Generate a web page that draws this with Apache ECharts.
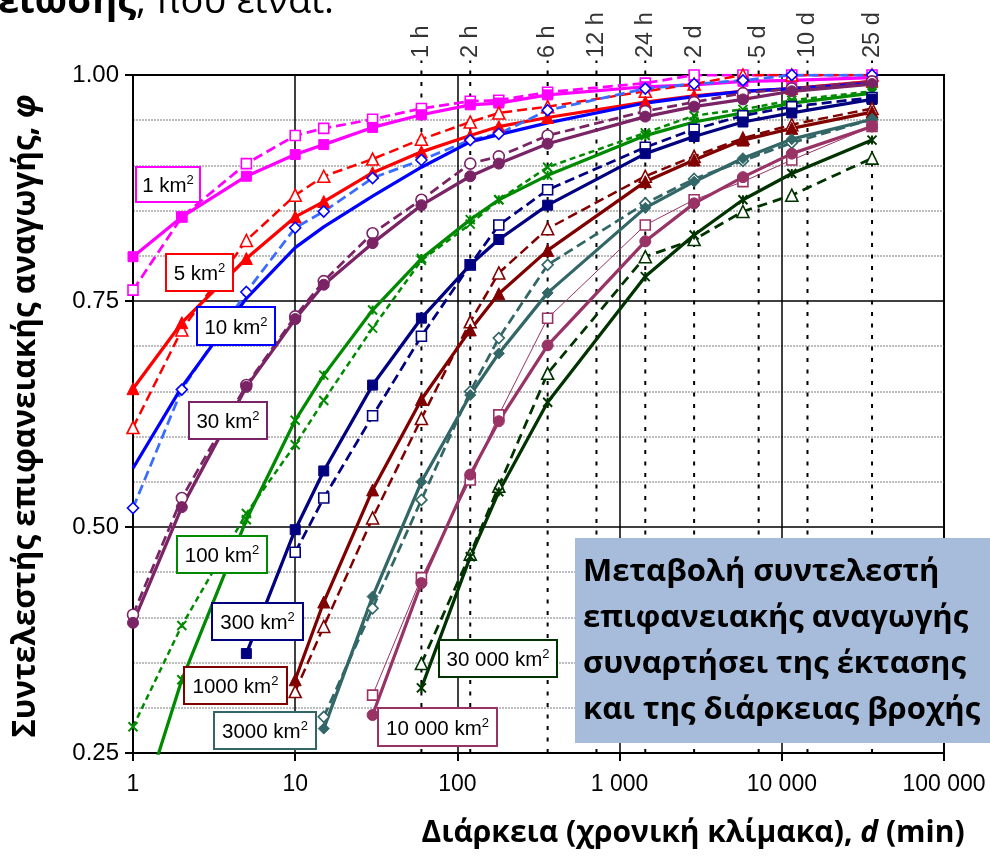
<!DOCTYPE html>
<html><head><meta charset="utf-8">
<script src="https://cdn.jsdelivr.net/npm/echarts@6/dist/echarts.min.js"></script>
<style>html,body{margin:0;padding:0;background:#fff}#c{width:990px;height:858px}</style>
</head><body><div id="c"></div>
<script>
// Durations (min)
const durations = [1,2,5,10,15,30,60,120,180,360,1440,2880,5760,11520,36000];
// Reference time marks (min) and labels
const markTimes = [60,120,360,720,1440,2880,7200,14400,36000];
const markLabels = ['1 h','2 h','6 h','12 h','24 h','2 d','5 d','10 d','25 d'];

// Areal reduction factor φ per area: A = solid series, B = dashed series
const phi1A     = [0.799,0.843,0.888,0.912,0.923,0.942,0.956,0.967,0.969,0.978,0.987,0.989,0.993,0.994,0.997];
const phi1B     = [0.762,0.843,0.902,0.933,0.941,0.951,0.963,0.971,0.972,0.981,0.991,1.000,1.000,1.000,1.000];
const phi5A     = [0.653,0.726,0.797,0.843,0.860,0.892,0.915,0.933,0.943,0.953,0.970,0.977,0.982,0.985,0.993];
const phi5B     = [0.610,0.718,0.817,0.867,0.888,0.907,0.929,0.948,0.958,0.965,0.982,0.990,1.000,1.000,1.000];
const phi10A    = [0.565,0.655,0.753,0.809,0.832,0.866,0.898,0.926,0.934,0.947,0.969,0.976,0.982,0.985,0.991];
const phi10B    = [0.521,0.652,0.760,0.831,0.849,0.886,0.906,0.928,0.935,0.961,0.985,0.990,0.994,1.000,1.000];
const phi30A    = [0.394,0.522,0.655,0.730,0.768,0.814,0.856,0.888,0.902,0.924,0.954,0.965,0.973,0.982,0.990];
const phi30B    = [0.403,0.532,0.657,0.733,0.772,0.825,0.862,0.902,0.910,0.933,0.960,0.970,0.980,0.985,0.993];
const phi100A   = [0.160,0.331,0.508,0.618,0.668,0.740,0.797,0.840,0.862,0.889,0.933,0.948,0.958,0.969,0.980];
const phi100B   = [0.279,0.391,0.515,0.591,0.640,0.720,0.795,0.835,0.862,0.898,0.936,0.955,0.962,0.972,0.982];
const phi300A   = [null,null,0.360,0.497,0.562,0.657,0.731,0.790,0.818,0.856,0.913,0.932,0.948,0.958,0.973];
const phi300B   = [null,null,null,0.472,0.532,0.623,0.711,0.790,0.834,0.873,0.920,0.940,0.955,0.965,0.975];
const phi1000A  = [null,null,null,0.331,0.417,0.541,0.641,0.718,0.758,0.806,0.882,0.906,0.928,0.941,0.959];
const phi1000B  = [null,null,null,0.318,0.390,0.510,0.620,0.727,0.781,0.830,0.888,0.910,0.930,0.945,0.963];
const phi3000A  = [null,null,null,null,0.277,0.423,0.550,0.646,0.692,0.759,0.853,0.882,0.908,0.929,0.951];
const phi3000B  = [null,null,null,null,0.290,0.410,0.530,0.650,0.709,0.790,0.858,0.885,0.905,0.925,0.951];
const phi10000A = [null,null,null,null,null,0.292,0.438,0.558,0.617,0.701,0.816,0.858,0.887,0.913,0.943];
const phi10000B = [null,null,null,null,null,0.314,0.444,0.552,0.624,0.731,0.834,0.862,0.882,0.906,0.943];
const phi30000A = [null,null,null,null,null,null,0.322,0.467,0.539,0.638,0.777,0.823,0.862,0.891,0.928];
const phi30000B = [null,null,null,null,null,null,0.349,0.470,0.545,0.670,0.799,0.818,0.849,0.867,0.908];

const X_PATH = 'path://M0,0L10,10M10,0L0,10';
const STAR_PATH = 'path://M0,0L10,10M10,0L0,10M5,0L5,10';

const defs = [
  {d:phi1B, c:'#FF00FF', s:'rect', f:false, dash:[10,5], w:2.75, sz:10},
  {d:phi1A, c:'#FF00FF', s:'rect', f:true, dash:null, w:3.25, sz:10},
  {d:phi5B, c:'#FF0000', s:'triangle', f:false, dash:[10,5], w:2.5, sz:12},
  {d:phi5A, c:'#FF0000', s:'triangle', f:true, dash:null, w:3.25, sz:12},
  {d:phi10B, c:'#3A6DFF', bc:'#0000FF', s:'diamond', f:false, dash:[10,5], w:2.75, sz:11},
  {d:phi10A, c:'#0000FF', s:'none', f:true, dash:null, w:3.25, sz:0},
  {d:phi30B, c:'#7A2365', s:'circle', f:false, dash:[10,5], w:2.75, sz:11},
  {d:phi30A, c:'#7A2365', s:'circle', f:true, dash:null, w:3.25, sz:11},
  {d:phi100B, c:'#008A00', s:X_PATH, f:false, dash:[6,4], w:2.5, sz:9, stroke:true},
  {d:phi100A, c:'#008A00', s:STAR_PATH, f:false, dash:null, w:3.25, sz:9, stroke:true},
  {d:phi300B, c:'#000080', s:'rect', f:false, dash:[10,5], w:2.75, sz:10},
  {d:phi300A, c:'#000080', s:'rect', f:true, dash:null, w:3.25, sz:10},
  {d:phi1000B, c:'#800000', s:'triangle', f:false, dash:[10,5], w:2.5, sz:12},
  {d:phi1000A, c:'#800000', s:'triangle', f:true, dash:null, w:3.25, sz:12},
  {d:phi3000B, c:'#336666', s:'diamond', f:false, dash:[10,5], w:2.75, sz:11},
  {d:phi3000A, c:'#336666', s:'diamond', f:true, dash:null, w:3.25, sz:11},
  {d:phi10000B, c:'#993366', s:'rect', f:false, dash:null, w:1, sz:10},
  {d:phi10000A, c:'#993366', s:'circle', f:true, dash:null, w:3.25, sz:11},
  {d:phi30000B, c:'#003300', s:'triangle', f:false, dash:[10,6], w:2.75, sz:12},
  {d:phi30000A, c:'#003300', s:STAR_PATH, f:false, dash:null, w:3.25, sz:9, stroke:true}
];

const series = [];
// Dotted vertical time-mark lines
markTimes.forEach(t => {
  series.push({type:'line', silent:true, clip:false, symbol:'none', z:1,
    data:[[t,0.25],[t,1.016]],
    lineStyle:{color:'#000', width:2, type:[4,7.5]}});
});
// Time labels
series.push({type:'scatter', silent:true, symbolSize:0, z:5,
  data: markTimes.map((t,i)=>({value:[t,1.0], name:markLabels[i]})),
  label:{show:true, position:'top', distance:17, rotate:90, align:'left', verticalAlign:'middle',
    formatter:p=>p.name, color:'#000', fontSize:23.5, fontFamily:'Liberation Sans'}});

defs.forEach(df => {
  const pts = [];
  df.d.forEach((v,i)=>{ if (v !== null) pts.push([durations[i], v]); });
  const item = df.stroke
    ? {color:'rgba(0,0,0,0)', borderColor:df.c, borderWidth:2}
    : (df.f ? {color:df.bc||df.c, borderColor:df.bc||df.c, borderWidth:1}
            : {color:'#fff', borderColor:df.bc||df.c, borderWidth:1.6});
  series.push({type:'line', silent:true, clip:true, data:pts, z:3,
    symbol:df.s, symbolSize:df.sz, showSymbol: df.s !== 'none',
    lineStyle:{color:df.c, width:df.w, type: df.dash ? df.dash : 'solid'},
    itemStyle:item});
});

const fmtThousands = v => String(Math.round(v)).replace(/\B(?=(\d{3})+(?!\d))/g, ' ');

const boxes = [
  {t:'1 km',   c:'#FF00FF', x:136, y:167, w:64,  h:35},
  {t:'5 km',   c:'#FF0000', x:166, y:254, w:67,  h:37},
  {t:'10 km',  c:'#0000FF', x:197, y:307, w:78,  h:38},
  {t:'30 km',  c:'#7A2365', x:189, y:402, w:78,  h:37},
  {t:'100 km', c:'#008A00', x:177, y:536, w:90,  h:37},
  {t:'300 km', c:'#000080', x:212, y:603, w:91,  h:37},
  {t:'1000 km',c:'#800000', x:184, y:667, w:103, h:37},
  {t:'3000 km',c:'#336666', x:214, y:712, w:102, h:37},
  {t:'10 000 km', c:'#993366', x:378, y:708, w:119, h:38},
  {t:'30 000 km', c:'#003300', x:439, y:640, w:118, h:37}
];
const graphics = [];
boxes.forEach(b => {
  graphics.push({type:'rect', z:50, shape:{x:b.x, y:b.y, width:b.w, height:b.h},
    style:{fill:'#fff', stroke:b.c, lineWidth:2}});
  graphics.push({type:'text', z:51, x:b.x+b.w/2, y:b.y+b.h/2+1,
    style:{text:'{n|'+b.t+'}{s|2}', align:'center', verticalAlign:'middle',
      rich:{n:{fontSize:20.5, fontFamily:'Liberation Sans', fill:'#000', verticalAlign:'bottom', lineHeight:23},
            s:{fontSize:13, fontFamily:'Liberation Sans', fill:'#000', verticalAlign:'top', lineHeight:23}}}});
});
// Info box
graphics.push({type:'rect', z:50, shape:{x:575, y:538, width:415, height:205}, style:{fill:'#A7BCDA'}});
graphics.push({type:'text', z:51, x:583, y:549,
  style:{text:'Μεταβολή συντελεστή\nεπιφανειακής αναγωγής\nσυναρτήσει της έκτασης\nκαι της διάρκειας βροχής',
    fontSize:31, fontWeight:'bold', fontFamily:'Open Sans', fill:'#000', lineHeight:46, align:'left', verticalAlign:'top'}});
// Axis titles
graphics.push({type:'text', x:26, y:416, rotation:Math.PI/2,
  style:{text:'{a|Συντελεστής επιφανειακής αναγωγής, }{b|φ}', align:'center', verticalAlign:'middle',
    rich:{a:{fontSize:31.5, fontWeight:'bold', fontFamily:'Open Sans', fill:'#000'},
          b:{fontSize:31.5, fontWeight:'bold', fontStyle:'italic', fontFamily:'Open Sans', fill:'#000'}}}});
graphics.push({type:'text', x:693, y:833,
  style:{text:'{a|Διάρκεια (χρονική κλίμακα), }{b|d}{a| (min)}', align:'center', verticalAlign:'middle',
    rich:{a:{fontSize:30, fontWeight:'bold', fontFamily:'Open Sans', fill:'#000'},
          b:{fontSize:30, fontWeight:'bold', fontStyle:'italic', fontFamily:'Open Sans', fill:'#000'}}}});
// Cropped slide text at top
graphics.push({type:'text', x:-2, y:21,
  style:{text:'{a|είωσης}{b|, που είναι:}', align:'left', verticalAlign:'bottom',
    rich:{a:{fontSize:38, fontWeight:'bold', fontFamily:'Open Sans', fill:'#000'},
          b:{fontSize:38, fontFamily:'Open Sans', fill:'#000'}}}});

const chart = echarts.init(document.getElementById('c'), null, {renderer:'canvas'});
chart.setOption({
  animation:false,
  backgroundColor:'#fff',
  grid:{left:133, right:46, top:75, bottom:105, show:true, borderColor:'#000', borderWidth:2, backgroundColor:'transparent'},
  xAxis:{type:'log', logBase:10, min:1, max:100000,
    axisLine:{show:true, lineStyle:{color:'#000', width:2}},
    axisTick:{show:true, length:8, lineStyle:{color:'#000', width:2}},
    axisLabel:{formatter:fmtThousands, fontSize:23, fontFamily:'Liberation Sans', color:'#000', margin:20},
    splitLine:{show:true, lineStyle:{color:'#000', width:1.5}},
    minorTick:{show:false}, minorSplitLine:{show:false}},
  yAxis:{type:'value', min:0.25, max:1.0, interval:0.25,
    axisLine:{show:true, lineStyle:{color:'#000', width:2}},
    axisTick:{show:true, length:8, lineStyle:{color:'#000', width:2}},
    axisLabel:{formatter:v=>v.toFixed(2), fontSize:24, fontFamily:'Liberation Sans', color:'#000', margin:14},
    splitLine:{show:true, lineStyle:{color:'#000', width:1.5}},
    minorTick:{show:false, splitNumber:5},
    minorSplitLine:{show:true, lineStyle:{color:'#A8A8A8', width:1.5, type:[2,1]}}},
  series: series,
  graphic: graphics
});
</script></body></html>
